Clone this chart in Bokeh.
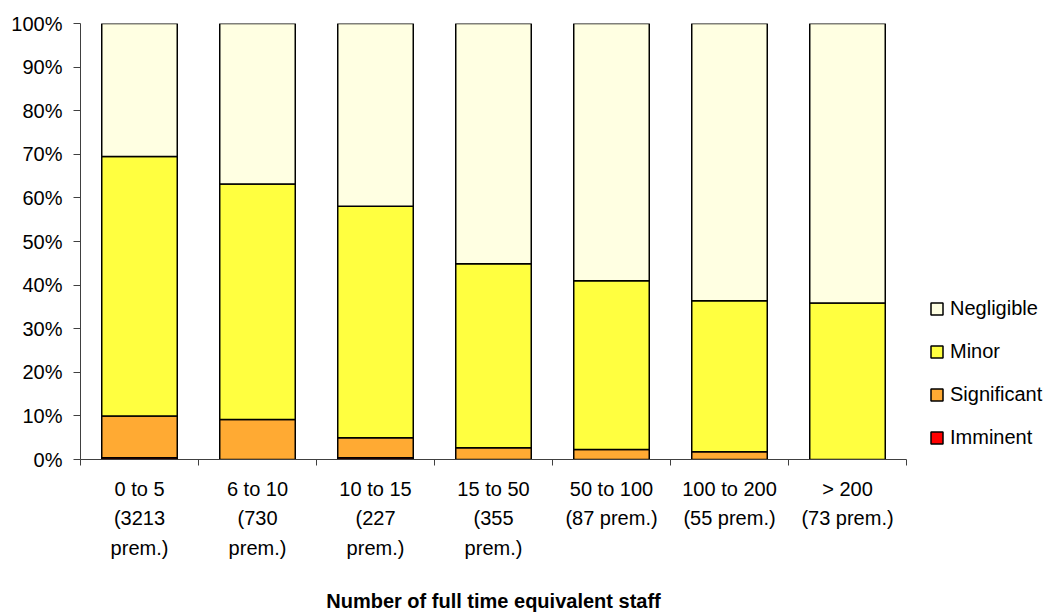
from bokeh.plotting import figure
from bokeh.models import (Range1d, FixedTicker, NumeralTickFormatter, Legend, LegendItem,
                          ColumnDataSource)
from bokeh.embed import file_html
from bokeh.resources import INLINE

categories = ["0 to 5\n(3213\nprem.)", "6 to 10\n(730\nprem.)", "10 to 15\n(227\nprem.)",
              "15 to 50\n(355\nprem.)", "50 to 100\n(87 prem.)", "100 to 200\n(55 prem.)",
              "> 200\n(73 prem.)"]
imminent = [0.004, 0.0, 0.004, 0.0, 0.0, 0.0, 0.0]
significant = [0.096, 0.092, 0.046, 0.027, 0.023, 0.018, 0.0]
minor = [0.595, 0.540, 0.531, 0.422, 0.387, 0.346, 0.359]
negligible = [0.305, 0.368, 0.419, 0.551, 0.590, 0.636, 0.641]
series = ["Imminent", "Significant", "Minor", "Negligible"]
colors = ["#FF0000", "#FFAA33", "#FFFF40", "#FFFFE2"]

xpos = [i + 0.5 for i in range(len(categories))]
source = ColumnDataSource(dict(x=xpos, Imminent=imminent, Significant=significant,
                               Minor=minor, Negligible=negligible))

FONT = "Liberation Sans"
FS = "20px"
p = figure(output_backend="svg", toolbar_location=None,
           frame_width=826, frame_height=436,
           x_range=Range1d(0, 7), y_range=Range1d(0, 1),
           min_border_left=80, min_border_right=147, min_border_top=23, min_border_bottom=156)
p.outline_line_color = None
p.xgrid.visible = False
p.ygrid.visible = False

rs = p.vbar_stack(series, x="x", width=0.64, source=source, fill_color=colors,
                  line_color="black", line_width=1.5)

AX = "#404040"
# y axis
p.yaxis.ticker = FixedTicker(ticks=[i / 10 for i in range(11)], minor_ticks=[])
p.yaxis.formatter = NumeralTickFormatter(format="0%")
p.yaxis.major_label_text_font = FONT
p.yaxis.major_label_text_font_size = FS
p.yaxis.major_label_text_color = "black"
p.yaxis.axis_line_color = AX
p.yaxis.major_tick_line_color = AX
p.yaxis.major_tick_in = 0
p.yaxis.major_tick_out = 7
p.yaxis.major_label_standoff = 11

# x axis
p.xaxis.ticker = FixedTicker(ticks=xpos, minor_ticks=list(range(8)))
p.xaxis.major_label_overrides = {x: c for x, c in zip(xpos, categories)}
p.xaxis.major_tick_line_color = None
p.xaxis.major_tick_in = 0
p.xaxis.major_tick_out = 0
p.xaxis.minor_tick_in = 0
p.xaxis.minor_tick_out = 6
p.xaxis.minor_tick_line_color = AX
p.xaxis.axis_line_color = AX
p.xaxis.major_label_text_font = FONT
p.xaxis.major_label_text_font_size = FS
p.xaxis.major_label_text_color = "black"
p.xaxis.major_label_text_line_height = 1.36
p.xaxis.major_label_standoff = 12
p.xaxis.axis_label = "Number of full time equivalent staff"
p.xaxis.axis_label_text_font = FONT
p.xaxis.axis_label_text_font_size = FS
p.xaxis.axis_label_text_font_style = "bold"
p.xaxis.axis_label_text_color = "black"
p.xaxis.axis_label_standoff = 28

items = [LegendItem(label=s, renderers=[r]) for s, r in zip(series, rs)][::-1]
legend = Legend(items=items, location=(23, 10), padding=0, margin=0, spacing=19,
                glyph_width=15, glyph_height=15, label_height=24, label_standoff=6,
                label_text_font=FONT, label_text_font_size=FS, label_text_color="black",
                border_line_color=None, background_fill_alpha=0)
p.add_layout(legend, "right")

open("out.html", "w").write(file_html(p, INLINE))
